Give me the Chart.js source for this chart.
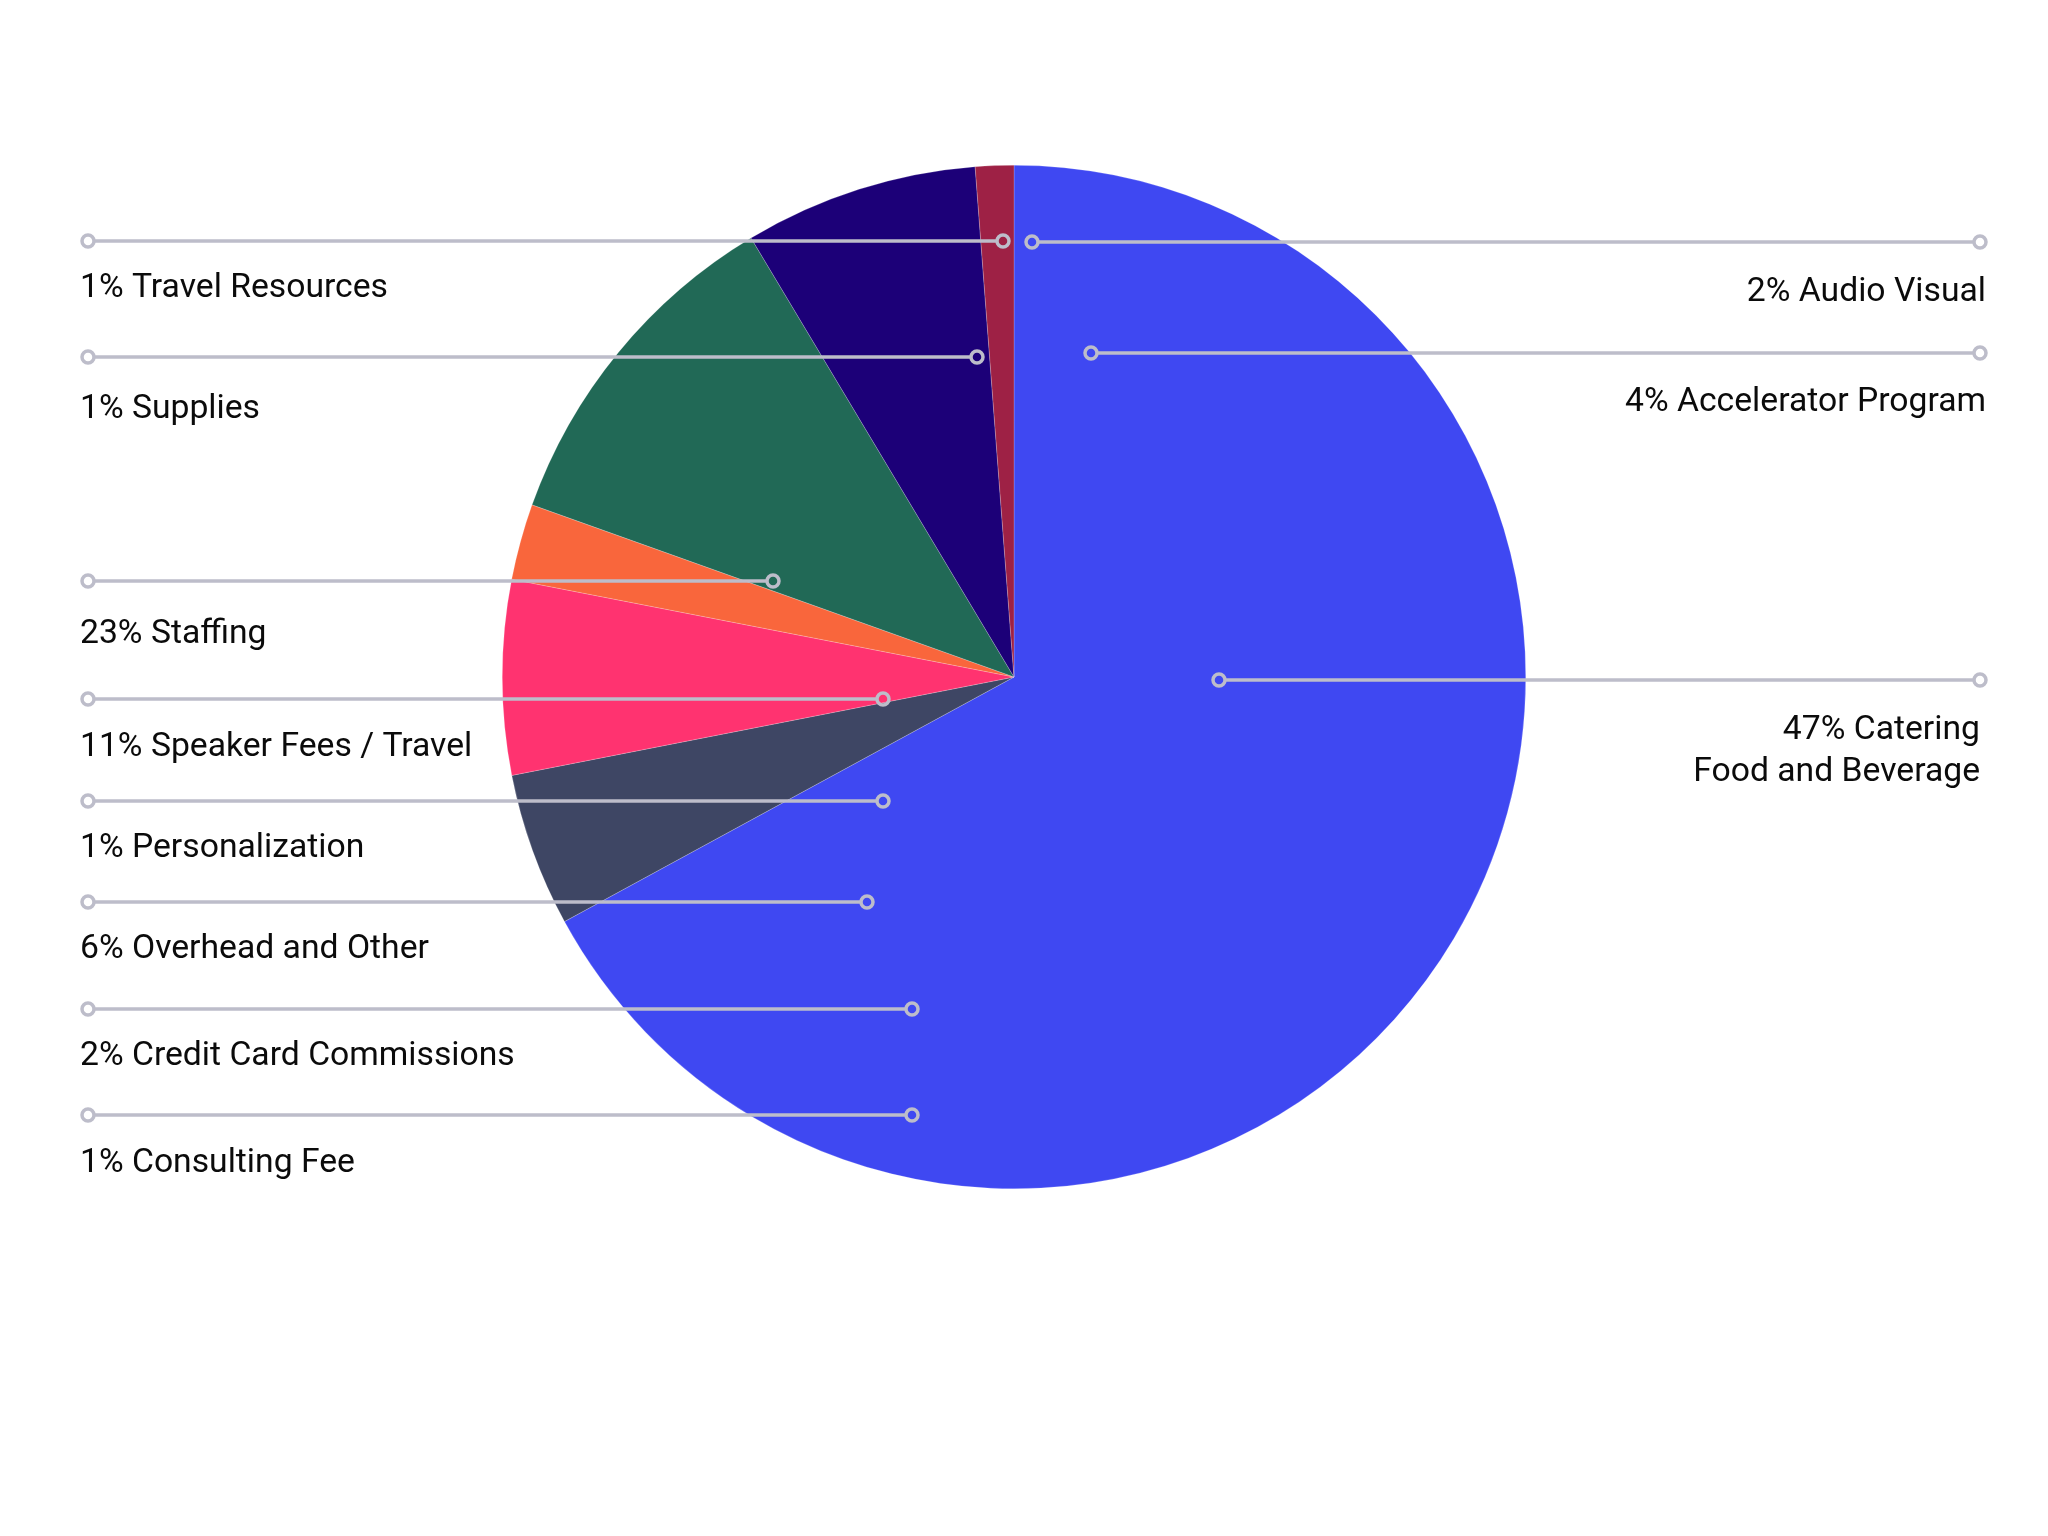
<!DOCTYPE html>
<html>
<head>
<meta charset="utf-8">
<title>Event Budget Breakdown</title>
<script src="https://cdn.jsdelivr.net/npm/chart.js@4.4.1/dist/chart.umd.min.js"></script>
<style>
    html, body { margin: 0; padding: 0; background: #ffffff; }
    #wrap { width: 2048px; height: 1536px; }
</style>
</head>
<body>
<div id="wrap"><canvas id="budgetChart" width="2048" height="1536"></canvas></div>
<script>
// Slice data (clockwise from 12 o'clock)
const sliceLabels = ['Catering', 'Overhead', 'Speakers', 'Staffing Extra', 'Staffing', 'Accelerator', 'Audio Visual'];
const sliceValues = [67.07, 4.85, 6.14, 2.40, 10.95, 7.38, 1.21];
const sliceColors = ['#3f48f2', '#3e4664', '#ff3370', '#f9663c', '#216956', '#1c0078', '#9e2145'];

// Callout texts
const leftNotes = [
    '1% Travel Resources',
    '1% Supplies',
    '23% Staffing',
    '11% Speaker Fees / Travel',
    '1% Personalization',
    '6% Overhead and Other',
    '2% Credit Card Commissions',
    '1% Consulting Fee'
];
const rightNotes = [
    ['2% Audio Visual'],
    ['4% Accelerator Program'],
    ['47% Catering', 'Food and Beverage']
];

// Callout layout (pixels on the canvas)
const leftLayout = [
    { y: 241, x2: 1003, base: 297 },
    { y: 357, x2: 977, base: 418 },
    { y: 581, x2: 773, base: 643 },
    { y: 699, x2: 883, base: 756 },
    { y: 801, x2: 883, base: 857 },
    { y: 902, x2: 867, base: 958 },
    { y: 1009, x2: 912, base: 1065 },
    { y: 1115, x2: 912, base: 1172 }
];
const rightLayout = [
    { y: 242, x1: 1032, textX: 1986, base: [301] },
    { y: 353, x1: 1091, textX: 1986, base: [411] },
    { y: 680, x1: 1219, textX: 1980, base: [739, 781] }
];

const LINE_COLOR = '#bdbdca';
const TEXT_COLOR = '#0b0b0b';
const FONT = '33.7px Roboto, "Open Sans", sans-serif';

function drawDot(ctx, x, y) {
    ctx.beginPath();
    ctx.arc(x, y, 6, 0, Math.PI * 2);
    ctx.stroke();
}

function drawLeader(ctx, x1, x2, y) {
    ctx.beginPath();
    ctx.moveTo(x1 + 6, y);
    ctx.lineTo(x2 - 6, y);
    ctx.stroke();
    drawDot(ctx, x1, y);
    drawDot(ctx, x2, y);
}

const calloutPlugin = {
    id: 'callouts',
    afterDraw(chart) {
        const ctx = chart.ctx;
        ctx.save();
        ctx.strokeStyle = LINE_COLOR;
        ctx.lineWidth = 3.5;
        ctx.font = FONT;
        ctx.fillStyle = TEXT_COLOR;
        ctx.textBaseline = 'alphabetic';

        leftNotes.forEach((txt, i) => {
            const row = leftLayout[i];
            drawLeader(ctx, 88, row.x2, row.y);
            ctx.textAlign = 'left';
            ctx.fillText(txt, 80, row.base);
        });

        rightNotes.forEach((lines, i) => {
            const row = rightLayout[i];
            drawLeader(ctx, row.x1, 1980, row.y);
            ctx.textAlign = 'right';
            lines.forEach((ln, j) => ctx.fillText(ln, row.textX, row.base[j]));
        });
        ctx.restore();
    }
};

new Chart(document.getElementById('budgetChart'), {
    type: 'pie',
    data: {
        labels: sliceLabels,
        datasets: [{
            data: sliceValues,
            backgroundColor: sliceColors,
            borderColor: 'rgba(255,255,255,0.4)',
            borderWidth: 0.5,
            hoverOffset: 0
        }]
    },
    options: {
        responsive: false,
        animation: false,
        layout: { padding: { left: 502, right: 522, top: 165, bottom: 347 } },
        plugins: {
            legend: { display: false },
            tooltip: { enabled: false }
        }
    },
    plugins: [calloutPlugin]
});
</script>
</body>
</html>
